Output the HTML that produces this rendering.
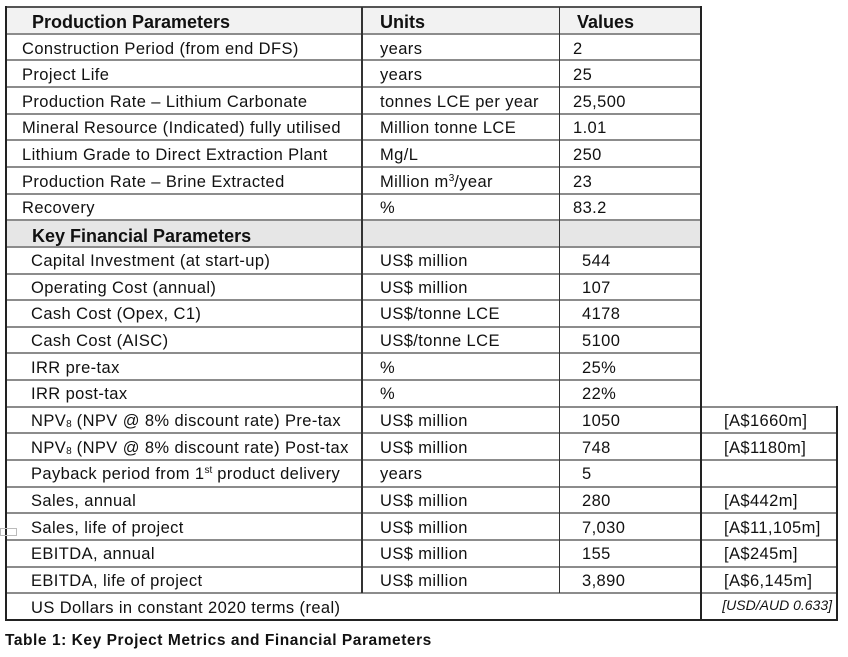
<!DOCTYPE html>
<html>
<head>
<meta charset="utf-8">
<style>
  html, body { margin:0; padding:0; }
  body { width:848px; height:657px; background:#fff; position:relative; overflow:hidden;
         font-family:"Liberation Sans", Arial, sans-serif; color:#111; }
  .t { position:absolute; white-space:nowrap; font-size:16.5px; line-height:20px; letter-spacing:0.4px; }
  .b { position:absolute; white-space:nowrap; font-size:18px; line-height:22px; font-weight:bold; }
  .h { position:absolute; height:2px; background:#8c8c8c; }
  .v { position:absolute; width:1.5px; background:#333; }
  .bg { position:absolute; }
  .sup { font-size:10px; position:relative; top:-6px; letter-spacing:0; }
  .sub { font-size:10px; position:relative; top:1px; letter-spacing:0; }
</style>
</head>
<body>
<!-- backgrounds -->
<div class="bg" style="left:6px;top:7px;width:695px;height:26.65px;background:#f2f2f2;"></div>
<div class="bg" style="left:6px;top:220.2px;width:695px;height:26.65px;background:#e6e6e6;"></div>

<!-- horizontal lines cols 1-3 -->
<div class="h" style="left:6px;width:695px;top:6px;background:#555;"></div>
<div class="h" style="left:6px;width:695px;top:32.65px;"></div>
<div class="h" style="left:6px;width:695px;top:59.3px;"></div>
<div class="h" style="left:6px;width:695px;top:85.95px;"></div>
<div class="h" style="left:6px;width:695px;top:112.6px;"></div>
<div class="h" style="left:6px;width:695px;top:139.25px;"></div>
<div class="h" style="left:6px;width:695px;top:165.9px;"></div>
<div class="h" style="left:6px;width:695px;top:192.55px;"></div>
<div class="h" style="left:6px;width:695px;top:219.2px;"></div>
<div class="h" style="left:6px;width:695px;top:245.85px;"></div>
<div class="h" style="left:6px;width:695px;top:272.5px;"></div>
<div class="h" style="left:6px;width:695px;top:299.15px;"></div>
<div class="h" style="left:6px;width:695px;top:325.8px;"></div>
<div class="h" style="left:6px;width:695px;top:352.45px;"></div>
<div class="h" style="left:6px;width:695px;top:379.1px;"></div>
<div class="h" style="left:6px;width:831px;top:405.75px;"></div>
<div class="h" style="left:6px;width:831px;top:432.4px;"></div>
<div class="h" style="left:6px;width:831px;top:459.05px;"></div>
<div class="h" style="left:6px;width:831px;top:485.7px;"></div>
<div class="h" style="left:6px;width:831px;top:512.35px;"></div>
<div class="h" style="left:6px;width:831px;top:539px;"></div>
<div class="h" style="left:6px;width:831px;top:565.65px;"></div>
<div class="h" style="left:6px;width:831px;top:592.3px;"></div>
<div class="h" style="left:5px;width:833px;top:619px;background:#222;"></div>

<!-- vertical lines -->
<div class="v" style="left:5px;top:6px;height:615px;width:2px;background:#222;"></div>
<div class="v" style="left:361px;top:7px;height:586.3px;"></div>
<div class="v" style="left:558.5px;top:7px;height:586.3px;"></div>
<div class="v" style="left:700px;top:6px;height:615px;background:#222;"></div>
<div class="v" style="left:836px;top:405.75px;height:215px;width:2px;background:#222;"></div>

<!-- artifact box -->
<div class="bg" style="left:0;top:528px;width:15px;height:6px;border:1px solid #bbb;"></div>

<!-- row 0 header -->
<div class="b" style="left:32px;top:11.3px;">Production Parameters</div>
<div class="b" style="left:380px;top:11.3px;">Units</div>
<div class="b" style="left:577px;top:11.3px;">Values</div>

<!-- production rows -->
<div class="t" style="left:22px;top:38.5px;">Construction Period (from end DFS)</div>
<div class="t" style="left:380px;top:38.5px;">years</div>
<div class="t" style="left:573px;top:38.5px;">2</div>

<div class="t" style="left:22px;top:65.1px;">Project Life</div>
<div class="t" style="left:380px;top:65.1px;">years</div>
<div class="t" style="left:573px;top:65.1px;">25</div>

<div class="t" style="left:22px;top:91.75px;">Production Rate – Lithium Carbonate</div>
<div class="t" style="left:380px;top:91.75px;">tonnes LCE per year</div>
<div class="t" style="left:573px;top:91.75px;">25,500</div>

<div class="t" style="left:22px;top:118.4px;">Mineral Resource (Indicated) fully utilised</div>
<div class="t" style="left:380px;top:118.4px;">Million tonne LCE</div>
<div class="t" style="left:573px;top:118.4px;">1.01</div>

<div class="t" style="left:22px;top:145.05px;">Lithium Grade to Direct Extraction Plant</div>
<div class="t" style="left:380px;top:145.05px;">Mg/L</div>
<div class="t" style="left:573px;top:145.05px;">250</div>

<div class="t" style="left:22px;top:171.7px;">Production Rate – Brine Extracted</div>
<div class="t" style="left:380px;top:171.7px;">Million m<span class="sup">3</span>/year</div>
<div class="t" style="left:573px;top:171.7px;">23</div>

<div class="t" style="left:22px;top:198.35px;">Recovery</div>
<div class="t" style="left:380px;top:198.35px;">%</div>
<div class="t" style="left:573px;top:198.35px;">83.2</div>

<!-- key financial header -->
<div class="b" style="left:32px;top:224.5px;">Key Financial Parameters</div>

<!-- financial rows -->
<div class="t" style="left:31px;top:251.15px;">Capital Investment (at start-up)</div>
<div class="t" style="left:380px;top:251.15px;">US$ million</div>
<div class="t" style="left:582px;top:251.15px;">544</div>

<div class="t" style="left:31px;top:277.8px;">Operating Cost (annual)</div>
<div class="t" style="left:380px;top:277.8px;">US$ million</div>
<div class="t" style="left:582px;top:277.8px;">107</div>

<div class="t" style="left:31px;top:304.45px;">Cash Cost (Opex, C1)</div>
<div class="t" style="left:380px;top:304.45px;">US$/tonne LCE</div>
<div class="t" style="left:582px;top:304.45px;">4178</div>

<div class="t" style="left:31px;top:331.1px;">Cash Cost (AISC)</div>
<div class="t" style="left:380px;top:331.1px;">US$/tonne LCE</div>
<div class="t" style="left:582px;top:331.1px;">5100</div>

<div class="t" style="left:31px;top:357.75px;">IRR pre-tax</div>
<div class="t" style="left:380px;top:357.75px;">%</div>
<div class="t" style="left:582px;top:357.75px;">25%</div>

<div class="t" style="left:31px;top:384.4px;">IRR post-tax</div>
<div class="t" style="left:380px;top:384.4px;">%</div>
<div class="t" style="left:582px;top:384.4px;">22%</div>

<div class="t" style="left:31px;top:411.05px;">NPV<span class="sub">8</span> (NPV @ 8% discount rate) Pre-tax</div>
<div class="t" style="left:380px;top:411.05px;">US$ million</div>
<div class="t" style="left:582px;top:411.05px;">1050</div>
<div class="t" style="left:724px;top:411.05px;">[A$1660m]</div>

<div class="t" style="left:31px;top:437.7px;">NPV<span class="sub">8</span> (NPV @ 8% discount rate) Post-tax</div>
<div class="t" style="left:380px;top:437.7px;">US$ million</div>
<div class="t" style="left:582px;top:437.7px;">748</div>
<div class="t" style="left:724px;top:437.7px;">[A$1180m]</div>

<div class="t" style="left:31px;top:464.35px;">Payback period from 1<span class="sup">st</span> product delivery</div>
<div class="t" style="left:380px;top:464.35px;">years</div>
<div class="t" style="left:582px;top:464.35px;">5</div>

<div class="t" style="left:31px;top:491px;">Sales, annual</div>
<div class="t" style="left:380px;top:491px;">US$ million</div>
<div class="t" style="left:582px;top:491px;">280</div>
<div class="t" style="left:724px;top:491px;">[A$442m]</div>

<div class="t" style="left:31px;top:517.65px;">Sales, life of project</div>
<div class="t" style="left:380px;top:517.65px;">US$ million</div>
<div class="t" style="left:582px;top:517.65px;">7,030</div>
<div class="t" style="left:724px;top:517.65px;">[A$11,105m]</div>

<div class="t" style="left:31px;top:544.3px;">EBITDA, annual</div>
<div class="t" style="left:380px;top:544.3px;">US$ million</div>
<div class="t" style="left:582px;top:544.3px;">155</div>
<div class="t" style="left:724px;top:544.3px;">[A$245m]</div>

<div class="t" style="left:31px;top:570.95px;">EBITDA, life of project</div>
<div class="t" style="left:380px;top:570.95px;">US$ million</div>
<div class="t" style="left:582px;top:570.95px;">3,890</div>
<div class="t" style="left:724px;top:570.95px;">[A$6,145m]</div>

<div class="t" style="left:31px;top:597.6px;">US Dollars in constant 2020 terms (real)</div>
<div style="position:absolute;right:16px;top:597px;font-size:14px;line-height:16px;font-style:italic;white-space:nowrap;">[USD/AUD 0.633]</div>

<!-- caption -->
<div style="position:absolute;left:5px;top:632.3px;font-size:15.5px;line-height:18px;font-weight:bold;letter-spacing:0.55px;white-space:nowrap;">Table 1: Key Project Metrics and Financial Parameters</div>
</body>
</html>
